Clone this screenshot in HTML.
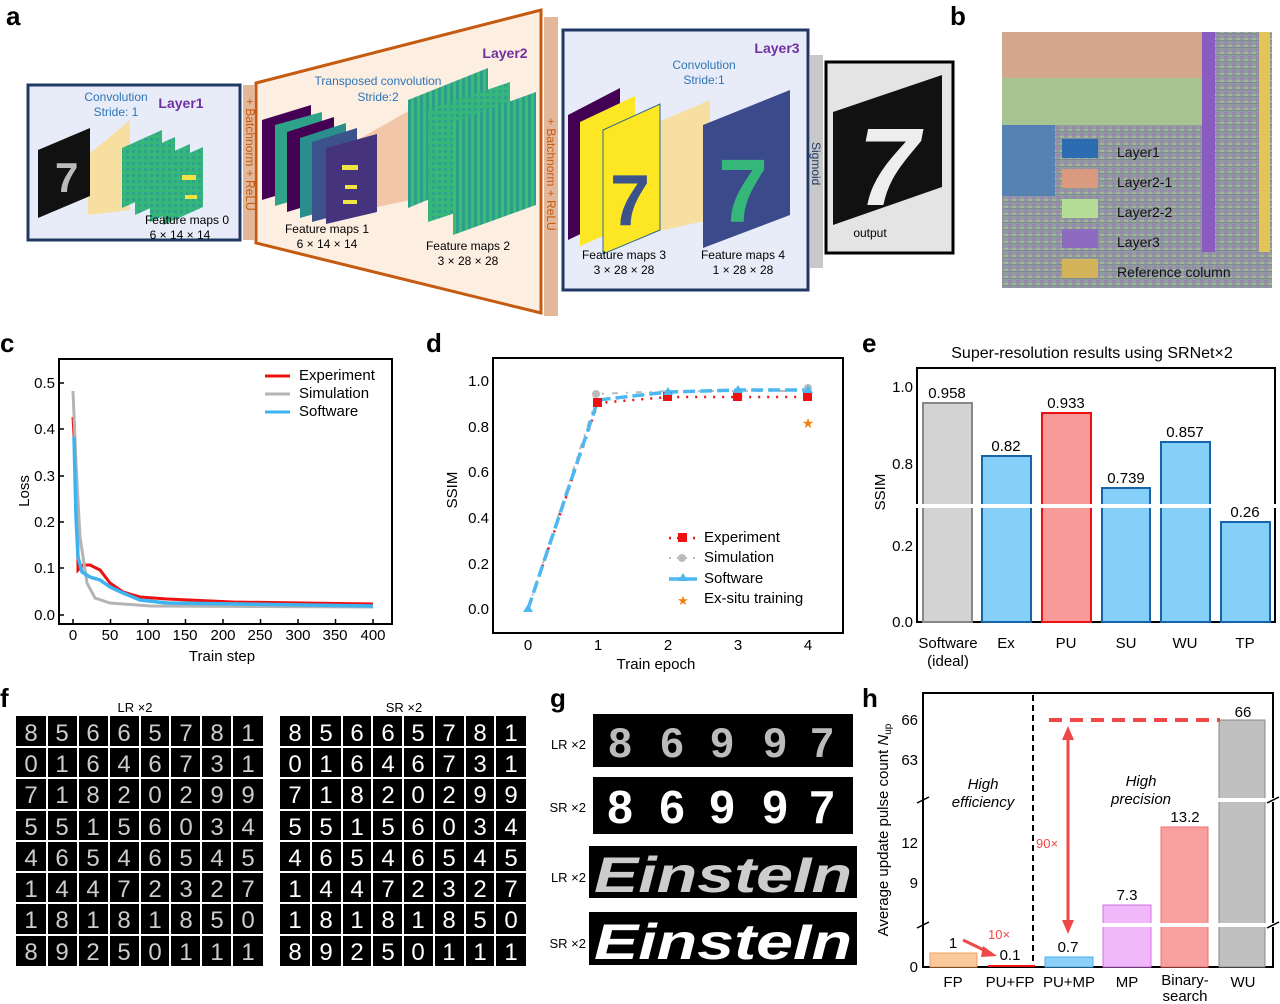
<!DOCTYPE html>
<html><head><meta charset="utf-8"><style>
html,body{margin:0;padding:0;background:#fff;}
svg{display:block;font-family:"Liberation Sans",Arial,sans-serif;}
</style></head><body>
<svg width="1280" height="1004" viewBox="0 0 1280 1004" xmlns="http://www.w3.org/2000/svg">
<defs>
<pattern id="chip" width="8" height="7" patternUnits="userSpaceOnUse">
<rect width="8" height="7" fill="#8f9d9c"/><rect x="0" y="0" width="4" height="3" fill="#9a86b0"/><rect x="4" y="3" width="4" height="2" fill="#a6b59a"/><rect x="0" y="5" width="8" height="1" fill="#7f8a96"/>
</pattern>
<pattern id="grn" width="6" height="6" patternUnits="userSpaceOnUse"><rect width="6" height="6" fill="#35b779"/><rect width="3" height="3" fill="#2fa38a"/></pattern>
<pattern id="grn2" width="6" height="6" patternUnits="userSpaceOnUse"><rect width="6" height="6" fill="#3cbb75"/><rect width="3" height="6" fill="#2c9f8b"/></pattern>
</defs>

<!-- PANEL A -->
<text x="6" y="25" font-size="26" font-weight="bold">a</text>
<rect x="28" y="85" width="212" height="155" fill="#e8ecf8" stroke="#1f3864" stroke-width="3"/>
<rect x="243" y="85" width="11" height="155" fill="#e3b79a"/>
<text transform="translate(246,98) rotate(90)" font-size="12" fill="#c55a11">+ Batchnorm + ReLU</text>
<polygon points="256,83 541,10 541,313 256,243" fill="#fdeee2" stroke="#c55a11" stroke-width="3"/>
<rect x="544" y="17" width="14" height="299" fill="#e3b79a"/>
<text transform="translate(547,118) rotate(90)" font-size="12" fill="#c55a11">+ Batchnorm + ReLU</text>
<rect x="563" y="30" width="245" height="260" fill="#e8ecf8" stroke="#1f3864" stroke-width="3"/>
<rect x="810" y="55" width="13" height="213" fill="#c8c8c8"/>
<text transform="translate(812,142) rotate(90)" font-size="12" fill="#1f3864">Sigmoid</text>
<rect x="826" y="62" width="127" height="191" fill="#e4e4e4" stroke="#000" stroke-width="3"/>

<polygon points="88,155 130,120 130,210 88,215" fill="#f6dfa0"/>
<polygon points="38,150 90,128 90,196 38,218" fill="#111"/>
<text x="55" y="192" font-size="42" fill="#bbb" font-weight="bold">7</text>
<polygon points="122,148 162,130 162,190 122,208" fill="url(#grn)"/>
<polygon points="135,155 175,137 175,197 135,215" fill="url(#grn)"/>
<polygon points="150,162 190,144 190,204 150,222" fill="url(#grn)"/>
<polygon points="163,165 203,147 203,207 163,225" fill="url(#grn)"/>
<rect x="182" y="175" width="14" height="5" fill="#f0e442"/><rect x="185" y="195" width="12" height="4" fill="#f0e442"/>
<text x="116" y="101" font-size="12" fill="#2e75b6" text-anchor="middle">Convolution</text>
<text x="116" y="116" font-size="12" fill="#2e75b6" text-anchor="middle">Stride: 1</text>
<text x="181" y="108" font-size="14" fill="#7030a0" font-weight="bold" text-anchor="middle">Layer1</text>
<text x="187" y="224" font-size="12" text-anchor="middle">Feature maps 0</text>
<text x="180" y="239" font-size="12" text-anchor="middle">6 × 14 × 14</text>

<polygon points="340,150 410,110 410,200 340,215" fill="#f2c6a8"/>
<polygon points="262,120 311,105 311,185 262,200" fill="#440154"/>
<polygon points="275,125 322,112 322,192 275,206" fill="#2fa38a"/>
<polygon points="287,132 334,117 334,198 287,212" fill="#440154"/>
<polygon points="300,138 346,123 346,205 300,218" fill="#2a8f8c"/>
<polygon points="312,142 357,128 357,210 312,222" fill="#3b528b"/>
<polygon points="326,148 377,134 377,212 326,224" fill="#46337e"/>
<rect x="342" y="165" width="16" height="5" fill="#f0e442"/><rect x="345" y="185" width="12" height="4" fill="#f0e442"/><rect x="343" y="200" width="14" height="4" fill="#f0e442"/>
<polygon points="408,100 488,68 488,175 408,208" fill="url(#grn2)"/>
<polygon points="428,110 510,82 510,195 428,222" fill="url(#grn)"/>
<polygon points="453,122 536,92 536,205 453,235" fill="url(#grn2)"/>
<text x="378" y="85" font-size="12" fill="#2e75b6" text-anchor="middle">Transposed convolution</text>
<text x="378" y="101" font-size="12" fill="#2e75b6" text-anchor="middle">Stride:2</text>
<text x="505" y="58" font-size="14" fill="#7030a0" font-weight="bold" text-anchor="middle">Layer2</text>
<text x="327" y="233" font-size="12" text-anchor="middle">Feature maps 1</text>
<text x="327" y="248" font-size="12" text-anchor="middle">6 × 14 × 14</text>
<text x="468" y="250" font-size="12" text-anchor="middle">Feature maps 2</text>
<text x="468" y="265" font-size="12" text-anchor="middle">3 × 28 × 28</text>

<polygon points="640,130 710,100 710,220 640,235" fill="#f6dfa0"/>
<polygon points="568,115 620,88 620,215 568,240" fill="#440154"/>
<polygon points="580,122 635,96 635,222 580,246" fill="#fde725"/>
<polygon points="603,130 660,104 660,230 603,254" fill="#fde725" stroke="#2c6a8a" stroke-width="1"/>
<text x="610" y="225" font-size="72" fill="#3b528b" font-weight="bold">7</text>
<polygon points="703,125 790,90 790,215 703,248" fill="#3b4a8a"/>
<text x="718" y="222" font-size="90" fill="#35b779" font-weight="bold">7</text>
<text x="777" y="53" font-size="14" fill="#7030a0" font-weight="bold" text-anchor="middle">Layer3</text>
<text x="704" y="69" font-size="12" fill="#2e75b6" text-anchor="middle">Convolution</text>
<text x="704" y="84" font-size="12" fill="#2e75b6" text-anchor="middle">Stride:1</text>
<text x="624" y="259" font-size="12" text-anchor="middle">Feature maps 3</text>
<text x="624" y="274" font-size="12" text-anchor="middle">3 × 28 × 28</text>
<text x="743" y="259" font-size="12" text-anchor="middle">Feature maps 4</text>
<text x="743" y="274" font-size="12" text-anchor="middle">1 × 28 × 28</text>
<polygon points="833,112 942,75 942,187 833,225" fill="#111"/>
<text x="858" y="205" font-size="110" fill="#eee" font-weight="bold" font-style="italic">7</text>
<text x="870" y="237" font-size="12" text-anchor="middle">output</text>

<!-- PANEL B -->
<text x="950" y="25" font-size="26" font-weight="bold">b</text>
<rect x="1002" y="32" width="270" height="256" fill="url(#chip)"/>
<rect x="1002" y="32" width="200" height="46" fill="#d9a98b" opacity="0.9"/>
<rect x="1002" y="78" width="200" height="47" fill="#a9c98f" opacity="0.9"/>
<rect x="1002" y="125" width="53" height="71" fill="#4f80b5" opacity="0.9"/>
<rect x="1202" y="32" width="13" height="220" fill="#8a5cc0"/>
<rect x="1259" y="32" width="11" height="220" fill="#e3c456"/>
<rect x="1062" y="139" width="36" height="19" fill="#2b6cb0"/>
<rect x="1062" y="169" width="36" height="19" fill="#d99a80"/>
<rect x="1062" y="199" width="36" height="19" fill="#b4dc96"/>
<rect x="1062" y="229" width="36" height="19" fill="#8d6cc0"/>
<rect x="1062" y="259" width="36" height="19" fill="#d4b45a"/>
<g font-size="14" fill="#111">
<text x="1117" y="157">Layer1</text><text x="1117" y="187">Layer2-1</text><text x="1117" y="217">Layer2-2</text><text x="1117" y="247">Layer3</text><text x="1117" y="277">Reference column</text>
</g>

<!-- PANEL C -->
<text x="0" y="352" font-size="26" font-weight="bold">c</text>
<rect x="59" y="359" width="333" height="265" fill="none" stroke="#000" stroke-width="2"/>
<g font-size="15" text-anchor="end">
<text x="55" y="388">0.5</text><text x="55" y="434">0.4</text><text x="55" y="481">0.3</text><text x="55" y="527">0.2</text><text x="55" y="573">0.1</text><text x="55" y="620">0.0</text>
</g>
<g stroke="#000" stroke-width="1.5">
<line x1="59" y1="383" x2="64" y2="383"/><line x1="59" y1="429" x2="64" y2="429"/><line x1="59" y1="476" x2="64" y2="476"/><line x1="59" y1="522" x2="64" y2="522"/><line x1="59" y1="568" x2="64" y2="568"/><line x1="59" y1="615" x2="64" y2="615"/>
<line x1="73" y1="624" x2="73" y2="619"/><line x1="110.5" y1="624" x2="110.5" y2="619"/><line x1="148" y1="624" x2="148" y2="619"/><line x1="185.5" y1="624" x2="185.5" y2="619"/><line x1="223" y1="624" x2="223" y2="619"/><line x1="260.5" y1="624" x2="260.5" y2="619"/><line x1="298" y1="624" x2="298" y2="619"/><line x1="335.5" y1="624" x2="335.5" y2="619"/><line x1="373" y1="624" x2="373" y2="619"/>
</g>
<g font-size="15" text-anchor="middle">
<text x="73" y="640">0</text><text x="110" y="640">50</text><text x="148" y="640">100</text><text x="185" y="640">150</text><text x="223" y="640">200</text><text x="260" y="640">250</text><text x="298" y="640">300</text><text x="335" y="640">350</text><text x="373" y="640">400</text>
<text x="222" y="661">Train step</text>
</g>
<text transform="translate(29,491) rotate(-90)" font-size="15" text-anchor="middle">Loss</text>
<polyline fill="none" stroke="#ee1111" stroke-width="3" points="73,417 77,487 78,570 83,565 90,565 100,570 110,583 123,592 140,597 167,599 233,602 373,604"/>
<polyline fill="none" stroke="#b4b4b4" stroke-width="3" points="73,391 76,463 80,537 87,583 95,598 110,603 150,606 373,607"/>
<polyline fill="none" stroke="#3db4f0" stroke-width="3.5" points="74,437 76,517 78,557 82,572 90,577 100,580 110,587 123,593 140,600 167,603 373,606"/>
<line x1="265" y1="376" x2="290" y2="376" stroke="#ee1111" stroke-width="3"/>
<line x1="265" y1="394" x2="290" y2="394" stroke="#b4b4b4" stroke-width="3"/>
<line x1="265" y1="412" x2="290" y2="412" stroke="#3db4f0" stroke-width="3"/>
<g font-size="15"><text x="299" y="380">Experiment</text><text x="299" y="398">Simulation</text><text x="299" y="416">Software</text></g>

<!-- PANEL D -->
<text x="426" y="352" font-size="26" font-weight="bold">d</text>
<rect x="493" y="358" width="350" height="275" fill="none" stroke="#000" stroke-width="2"/>
<g font-size="15" text-anchor="end">
<text x="489" y="386">1.0</text><text x="489" y="432">0.8</text><text x="489" y="477">0.6</text><text x="489" y="523">0.4</text><text x="489" y="569">0.2</text><text x="489" y="614">0.0</text>
</g>
<g font-size="15" text-anchor="middle">
<text x="528" y="650">0</text><text x="598" y="650">1</text><text x="668" y="650">2</text><text x="738" y="650">3</text><text x="808" y="650">4</text>
<text x="656" y="669">Train epoch</text>
</g>
<text transform="translate(457,490) rotate(-90)" font-size="15" text-anchor="middle">SSIM</text>
<polyline fill="none" stroke="#bbb" stroke-width="2" stroke-dasharray="6,8,2,8" points="528,609 598,394 668,391 738,391 808,391"/>
<polyline fill="none" stroke="#ee1111" stroke-width="2.5" stroke-dasharray="2,7" points="528,609 598,403 668,397 738,397 808,397"/>
<polyline fill="none" stroke="#4db8f0" stroke-width="3.5" stroke-dasharray="12,5" points="528,609 598,400 668,392 738,390 808,390"/>
<g fill="#ee1111"><rect x="593" y="398" width="9" height="9"/><rect x="663" y="392" width="9" height="9"/><rect x="733" y="392" width="9" height="9"/><rect x="803" y="392" width="9" height="9"/></g>
<g fill="#bbb"><circle cx="596" cy="394" r="4"/><circle cx="808" cy="388" r="4"/></g>
<g fill="#4db8f0"><polygon points="668,387 673,395 663,395"/><polygon points="738,385 743,393 733,393"/><polygon points="808,385 813,393 803,393"/><polygon points="528,604 533,612 523,612"/></g>
<text x="808" y="428" font-size="14" fill="#f08010" text-anchor="middle">★</text>
<line x1="669" y1="538" x2="697" y2="538" stroke="#ee1111" stroke-width="2.5" stroke-dasharray="2,6"/><rect x="678" y="533" width="9" height="9" fill="#ee1111"/>
<line x1="669" y1="558" x2="697" y2="558" stroke="#bbb" stroke-width="2" stroke-dasharray="2,6"/><circle cx="682" cy="558" r="4" fill="#bbb"/>
<line x1="669" y1="579" x2="697" y2="579" stroke="#4db8f0" stroke-width="3.5"/><polygon points="683,573 688,581 678,581" fill="#4db8f0"/>
<text x="683" y="605" font-size="13" fill="#f08010" text-anchor="middle">★</text>
<g font-size="15"><text x="704" y="542">Experiment</text><text x="704" y="562">Simulation</text><text x="704" y="583">Software</text><text x="704" y="603">Ex-situ training</text></g>

<!-- PANEL E -->
<text x="862" y="352" font-size="26" font-weight="bold">e</text>
<text x="1092" y="358" font-size="16" text-anchor="middle">Super-resolution results using SRNet×2</text>
<rect x="917" y="368" width="358" height="254" fill="none" stroke="#000" stroke-width="2"/>
<rect x="923" y="403" width="49" height="219" fill="#d3d3d3" stroke="#888" stroke-width="2"/>
<rect x="982" y="456" width="49" height="166" fill="#85cff8" stroke="#1565a8" stroke-width="2"/>
<rect x="1042" y="413" width="49" height="209" fill="#f89a9a" stroke="#ee1111" stroke-width="2"/>
<rect x="1102" y="488" width="48" height="134" fill="#85cff8" stroke="#1565a8" stroke-width="2"/>
<rect x="1161" y="442" width="49" height="180" fill="#85cff8" stroke="#1565a8" stroke-width="2"/>
<rect x="1221" y="522" width="49" height="100" fill="#85cff8" stroke="#1565a8" stroke-width="2"/>
<rect x="912" y="504" width="368" height="4" fill="#fff"/>
<g font-size="15" text-anchor="middle">
<text x="947" y="398">0.958</text><text x="1006" y="451">0.82</text><text x="1066" y="408">0.933</text><text x="1126" y="483">0.739</text><text x="1185" y="437">0.857</text><text x="1245" y="517">0.26</text>
<text x="948" y="648">Software</text><text x="948" y="666">(ideal)</text><text x="1006" y="648">Ex</text><text x="1066" y="648">PU</text><text x="1126" y="648">SU</text><text x="1185" y="648">WU</text><text x="1245" y="648">TP</text>
</g>
<g font-size="15" text-anchor="end"><text x="913" y="392">1.0</text><text x="913" y="469">0.8</text><text x="913" y="551">0.2</text><text x="913" y="627">0.0</text></g>
<text transform="translate(885,492) rotate(-90)" font-size="15" text-anchor="middle">SSIM</text>

<!-- PANEL F -->
<text x="0" y="707" font-size="26" font-weight="bold">f</text>
<text x="135" y="712" font-size="13" text-anchor="middle">LR ×2</text>
<text x="404" y="712" font-size="13" text-anchor="middle">SR ×2</text>
<rect x="16" y="716" width="247" height="250" fill="#000"/>
<rect x="280" y="716" width="246" height="250" fill="#000"/>
<g stroke="#fff" stroke-width="2">
<line x1="47" y1="716" x2="47" y2="966"/><line x1="78" y1="716" x2="78" y2="966"/><line x1="109" y1="716" x2="109" y2="966"/><line x1="140" y1="716" x2="140" y2="966"/><line x1="170" y1="716" x2="170" y2="966"/><line x1="201" y1="716" x2="201" y2="966"/><line x1="232" y1="716" x2="232" y2="966"/>
<line x1="311" y1="716" x2="311" y2="966"/><line x1="342" y1="716" x2="342" y2="966"/><line x1="372" y1="716" x2="372" y2="966"/><line x1="403" y1="716" x2="403" y2="966"/><line x1="434" y1="716" x2="434" y2="966"/><line x1="465" y1="716" x2="465" y2="966"/><line x1="495" y1="716" x2="495" y2="966"/>
<line x1="16" y1="747" x2="526" y2="747"/><line x1="16" y1="778" x2="526" y2="778"/><line x1="16" y1="810" x2="526" y2="810"/><line x1="16" y1="841" x2="526" y2="841"/><line x1="16" y1="872" x2="526" y2="872"/><line x1="16" y1="903" x2="526" y2="903"/><line x1="16" y1="935" x2="526" y2="935"/>
</g>
<g font-size="24" fill="#ccc" text-anchor="middle">
<text x="31 62 93 124 155 186 217 248" y="741">85665781</text>
<text x="31 62 93 124 155 186 217 248" y="772">01646731</text>
<text x="31 62 93 124 155 186 217 248" y="803">71820299</text>
<text x="31 62 93 124 155 186 217 248" y="835">55156034</text>
<text x="31 62 93 124 155 186 217 248" y="866">46546545</text>
<text x="31 62 93 124 155 186 217 248" y="897">14472327</text>
<text x="31 62 93 124 155 186 217 248" y="928">18181850</text>
<text x="31 62 93 124 155 186 217 248" y="960">89250111</text>
</g>
<g font-size="24" fill="#fff" text-anchor="middle">
<text x="295 326 357 388 418 449 480 511" y="741">85665781</text>
<text x="295 326 357 388 418 449 480 511" y="772">01646731</text>
<text x="295 326 357 388 418 449 480 511" y="803">71820299</text>
<text x="295 326 357 388 418 449 480 511" y="835">55156034</text>
<text x="295 326 357 388 418 449 480 511" y="866">46546545</text>
<text x="295 326 357 388 418 449 480 511" y="897">14472327</text>
<text x="295 326 357 388 418 449 480 511" y="928">18181850</text>
<text x="295 326 357 388 418 449 480 511" y="960">89250111</text>
</g>

<!-- PANEL G -->
<text x="550" y="707" font-size="26" font-weight="bold">g</text>
<rect x="593" y="714" width="260" height="53" fill="#000"/>
<rect x="593" y="777" width="260" height="57" fill="#000"/>
<rect x="589" y="846" width="268" height="52" fill="#000"/>
<rect x="589" y="912" width="268" height="53" fill="#000"/>
<g font-size="13" text-anchor="end"><text x="586" y="749">LR ×2</text><text x="586" y="812">SR ×2</text><text x="586" y="882">LR ×2</text><text x="586" y="948">SR ×2</text></g>
<g font-size="42" font-weight="bold" fill="#bbb" text-anchor="middle"><text x="620 672 722 775 822" y="757">86997</text></g>
<g font-size="46" font-weight="bold" fill="#fff" text-anchor="middle"><text x="620 672 722 775 822" y="823">86997</text></g>
<g font-size="50" font-weight="bold" font-style="italic" fill="#ccc"><text x="594" y="892" textLength="258" lengthAdjust="spacingAndGlyphs">EinsteIn</text></g>
<g font-size="50" font-weight="bold" font-style="italic" fill="#fff"><text x="594" y="959" textLength="258" lengthAdjust="spacingAndGlyphs">EinsteIn</text></g>

<!-- PANEL H -->
<text x="862" y="707" font-size="26" font-weight="bold">h</text>
<rect x="923" y="693" width="350" height="274" fill="none" stroke="#000" stroke-width="2"/>
<rect x="930" y="953" width="47" height="14" fill="#f9c99a" stroke="#f0a060"/>
<rect x="988" y="965" width="47" height="2" fill="#ee1111"/>
<rect x="1045" y="957" width="48" height="10" fill="#8ad0f8" stroke="#4ab0f0"/>
<rect x="1103" y="905" width="48" height="62" fill="#f0b8f8" stroke="#d070e0"/>
<rect x="1161" y="827" width="47" height="140" fill="#f8a0a0" stroke="#f07070"/>
<rect x="1219" y="720" width="46" height="247" fill="#c0c0c0" stroke="#888"/>
<rect x="1095" y="798" width="185" height="4" fill="#fff"/>
<rect x="1095" y="923" width="185" height="4" fill="#fff"/>
<line x1="1033" y1="695" x2="1033" y2="965" stroke="#000" stroke-width="2" stroke-dasharray="6,4"/>
<line x1="1049" y1="720" x2="1220" y2="720" stroke="#f04848" stroke-width="4" stroke-dasharray="13,8"/>
<line x1="1068" y1="735" x2="1068" y2="925" stroke="#f04848" stroke-width="3"/>
<polygon points="1068,726 1062,740 1074,740" fill="#f04848"/>
<polygon points="1068,934 1062,920 1074,920" fill="#f04848"/>
<line x1="963" y1="940" x2="988" y2="952" stroke="#f04848" stroke-width="3"/>
<polygon points="997,956 983,946 981,957" fill="#f04848"/>
<g font-size="15" text-anchor="middle">
<text x="953" y="948">1</text><text x="1010" y="960">0.1</text><text x="1068" y="952">0.7</text><text x="1127" y="900">7.3</text><text x="1185" y="822">13.2</text><text x="1243" y="717">66</text>
<text x="953" y="987">FP</text><text x="1010" y="987">PU+FP</text><text x="1069" y="987">PU+MP</text><text x="1127" y="987">MP</text><text x="1185" y="985">Binary-</text><text x="1185" y="1001">search</text><text x="1243" y="987">WU</text>
</g>
<g font-size="15" text-anchor="middle" font-style="italic"><text x="983" y="789">High</text><text x="983" y="807">efficiency</text><text x="1141" y="786">High</text><text x="1141" y="804">precision</text></g>
<text x="988" y="939" font-size="13" fill="#f04848">10×</text>
<text x="1036" y="848" font-size="13" fill="#f04848">90×</text>
<g font-size="15" text-anchor="end"><text x="918" y="725">66</text><text x="918" y="765">63</text><text x="918" y="848">12</text><text x="918" y="888">9</text><text x="918" y="972">0</text></g>
<g stroke="#000" stroke-width="1.5"><line x1="917" y1="803" x2="929" y2="797"/><line x1="917" y1="928" x2="929" y2="922"/><line x1="1267" y1="803" x2="1279" y2="797"/><line x1="1267" y1="928" x2="1279" y2="922"/></g>
<text transform="translate(888,830) rotate(-90)" font-size="15" text-anchor="middle">Average update pulse count <tspan font-style="italic">N</tspan><tspan font-size="10" dy="3">up</tspan></text>
</svg>
</body></html>
